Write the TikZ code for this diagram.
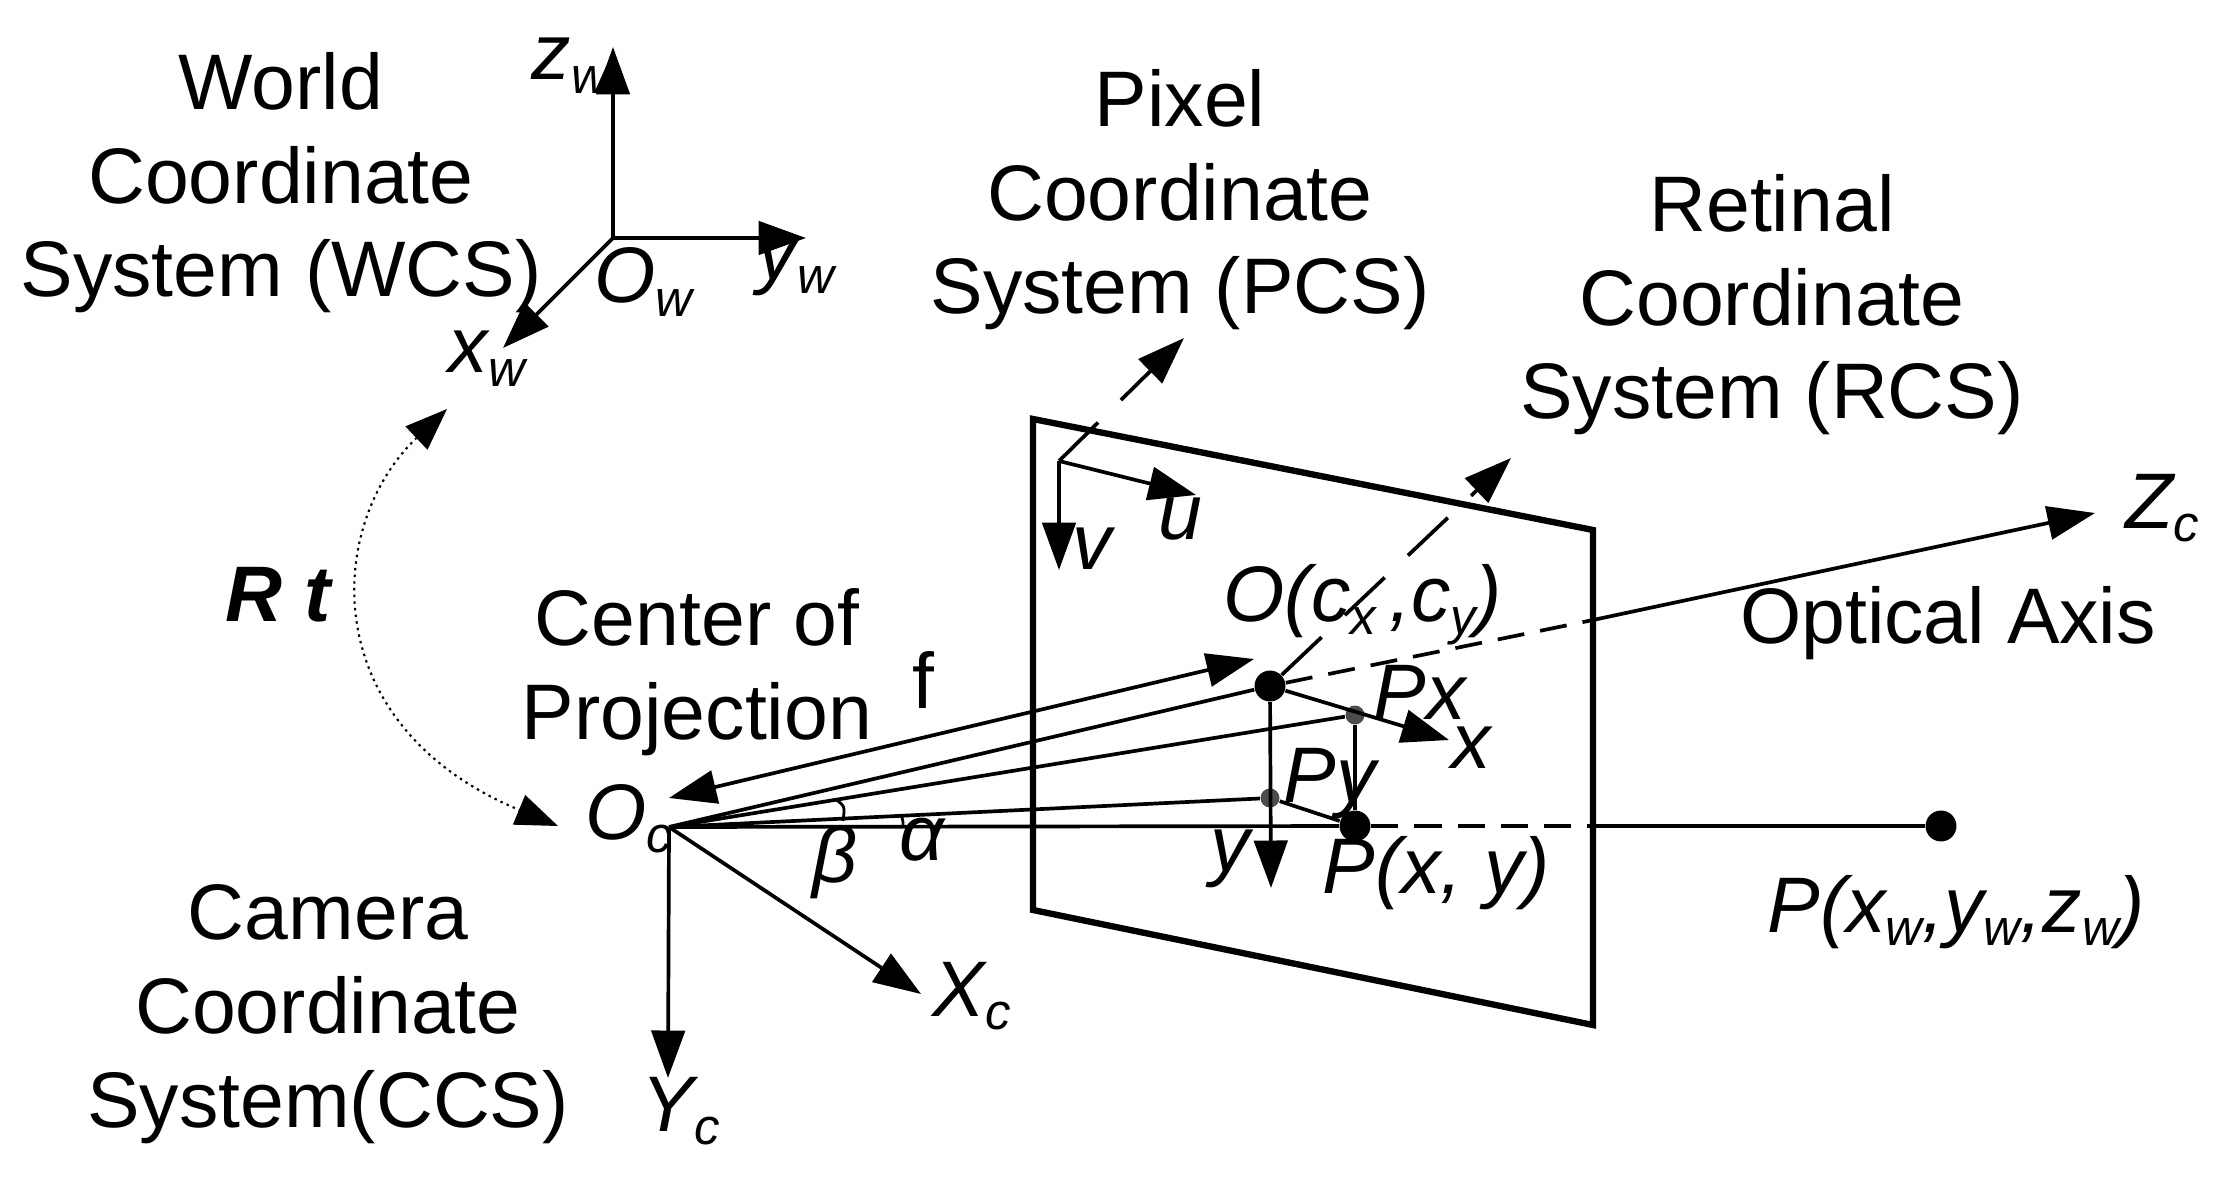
\documentclass[tikz,border=0pt]{standalone}
\usepackage{fontspec}
\setmainfont{Liberation Sans}
\usetikzlibrary{arrows.meta}
\newcommand{\sbs}[1]{\raisebox{-.32ex}{\fontsize{14.5}{14.5}\selectfont\textit{#1}}}
\begin{document}
\begin{tikzpicture}[x=0.01cm, y=-0.01cm,
lbl/.style = {font = \fontsize{22.4}{26.7}\selectfont, align = center, anchor = base, inner sep = 0pt},
sym/.style = {font = \fontsize{22.4}{26.7}\selectfont\itshape, anchor = base west, inner sep = 0pt},
axis/.style = {line width = 1.05pt, -{Triangle[length = 13.5pt, width = 9.5pt]}},
thin line/.style = {line width = 1.05pt},
dotb/.style = {circle, fill = black, inner sep = 0pt, minimum size = 8.8pt},
dotg/.style = {circle, fill = black!70, inner sep = 0pt, minimum size = 5.4pt}]
\useasboundingbox (0,0) rectangle (2226,1179);
% image plane
\draw[line width = 1.8pt] (1033,419) -- (1593,530) -- (1593,1025) -- (1033,910) -- cycle;
\coordinate (Ow) at (613,238);
\coordinate (Oc) at (669,827);
\coordinate (Opx) at (1059,461);
\coordinate (Zedge) at (1593,620);
\coordinate (Pedge) at (1593,826);
\node[dotb] (O) at (1270,686) {};
\node[dotb] (P) at (1355,826) {};
\node[dotb] (Pw) at (1941,826) {};
\node[dotg] (Px) at (1355,715) {};
\node[dotg] (Py) at (1270,798) {};
\coordinate (zwtip) at (613,47);
\coordinate (ywtip) at (806,238);
\coordinate (xwtip) at (503,348);
\coordinate (utip) at (1196,495);
\coordinate (vtip) at (1059,570);
\coordinate (pcstip) at (1184,338);
\coordinate (rcstip) at (1511,458);
\coordinate (Ztip) at (2095,513);
\coordinate (xtip) at (1449,740);
\coordinate (ytip) at (1271,888);
\coordinate (Xtip) at (921,994);
\coordinate (Ytip) at (668,1078);
\coordinate (ftipa) at (669,798);
\coordinate (ftipb) at (1254,659);
\coordinate (rta) at (447,409);
\coordinate (rtb) at (558,826);
\coordinate (ba) at (835,799);
\coordinate (bb) at (843,821);
\coordinate (aa) at (901,816);
\coordinate (ab) at (903,826);
% axes
\foreach \i/\j in {Ow/zwtip, Ow/ywtip, Ow/xwtip, Opx/utip, Opx/vtip, Oc/Xtip, Oc/Ytip, O/xtip, O/ytip, Zedge/Ztip}{
\draw[axis] (\i) -- (\j);
}
% rays
\foreach \i/\j in {Oc/O, Oc/Px, Oc/Py, Oc/P, Px/P, Py/P, Pedge/Pw}{
\draw[thin line] (\i) -- (\j);
}
\draw[axis, {Triangle[length = 13.5pt, width = 9.5pt]}-{Triangle[length = 13.5pt, width = 9.5pt]}] (ftipa) -- (ftipb);
\draw[thin line, dash pattern = on 7.7pt off 4.6pt] (O) -- (Zedge);
\draw[thin line, dash pattern = on 7.7pt off 4.6pt] (P) -- (Pedge);
\draw[axis, dash pattern = on 15.6pt off 9.1pt] (O) -- (rcstip);
\draw[axis, dash pattern = on 15.6pt off 9.1pt] (Opx) -- (pcstip);
\draw[line width = 0.6pt, dash pattern = on 0.7pt off 1.2pt, {Triangle[length = 12pt, width = 9pt]}-{Triangle[length = 12pt, width = 9pt]}] (rta) .. controls (325,525) and (315,725) .. (rtb);
\draw[thin line, line width = 0.8pt] (ba) .. controls (845,806) .. (bb);
\draw[thin line, line width = 0.8pt] (aa) .. controls (903,820) .. (ab);
% labels
\node[lbl] (wcs) at (281,297) {World\\Coordinate\\System (WCS)};
\node[lbl] (pcs) at (1180,314) {Pixel\\Coordinate\\System (PCS)};
\node[lbl] (rcs) at (1772,419) {Retinal\\Coordinate\\System (RCS)};
\node[lbl] (cop) at (697,739) {Center of\\Projection};
\node[lbl] (ccs) at (328,1127) {Camera\\Coordinate\\System(CCS)};
\node[lbl] (oa) at (1948,643) {Optical Axis};
\node[sym] (lzw) at (531,80) {z\sbs{w}};
\node[sym] (lyw) at (757,280) {y\sbs{w}};
\node[sym] (lOw) at (594,303) {O\sbs{w}};
\node[sym] (lxw) at (448,373) {x\sbs{w}};
\node[sym] (lu) at (1158,540) {u};
\node[sym] (lv) at (1072,570) {v};
\node[sym] (lO) at (1223,621) {O(c\sbs{x}\,,c\sbs{y})};
\node[sym] (lPx) at (1373,719) {Px};
\node[sym] (lx) at (1451,768) {x};
\node[sym] (lPy) at (1283,802) {Py};
\node[sym] (ly) at (1210,871) {y};
\node[sym] (lP) at (1322,893) {P(x, y)};
\node[sym] (lPw) at (1767,932) {P(x\sbs{w},y\sbs{w},z\sbs{w})};
\node[sym] (lZ) at (2125,528) {Z\sbs{c}};
\node[sym] (lX) at (932,1016) {X\sbs{c}};
\node[sym] (lY) at (641,1131) {Y\sbs{c}};
\node[sym] (lOc) at (585,839) {O\sbs{c}};
\node[sym] (lb) at (812,882) {β};
\node[sym] (la) at (899,860) {α};
\node[sym, font = \fontsize{22.4}{26.7}\selectfont] (lf) at (912,708) {f};
\node[sym, font = \fontsize{22.4}{26.7}\selectfont\bfseries\itshape] (lRt) at (225,621) {R t};
\end{tikzpicture}
\end{document}
